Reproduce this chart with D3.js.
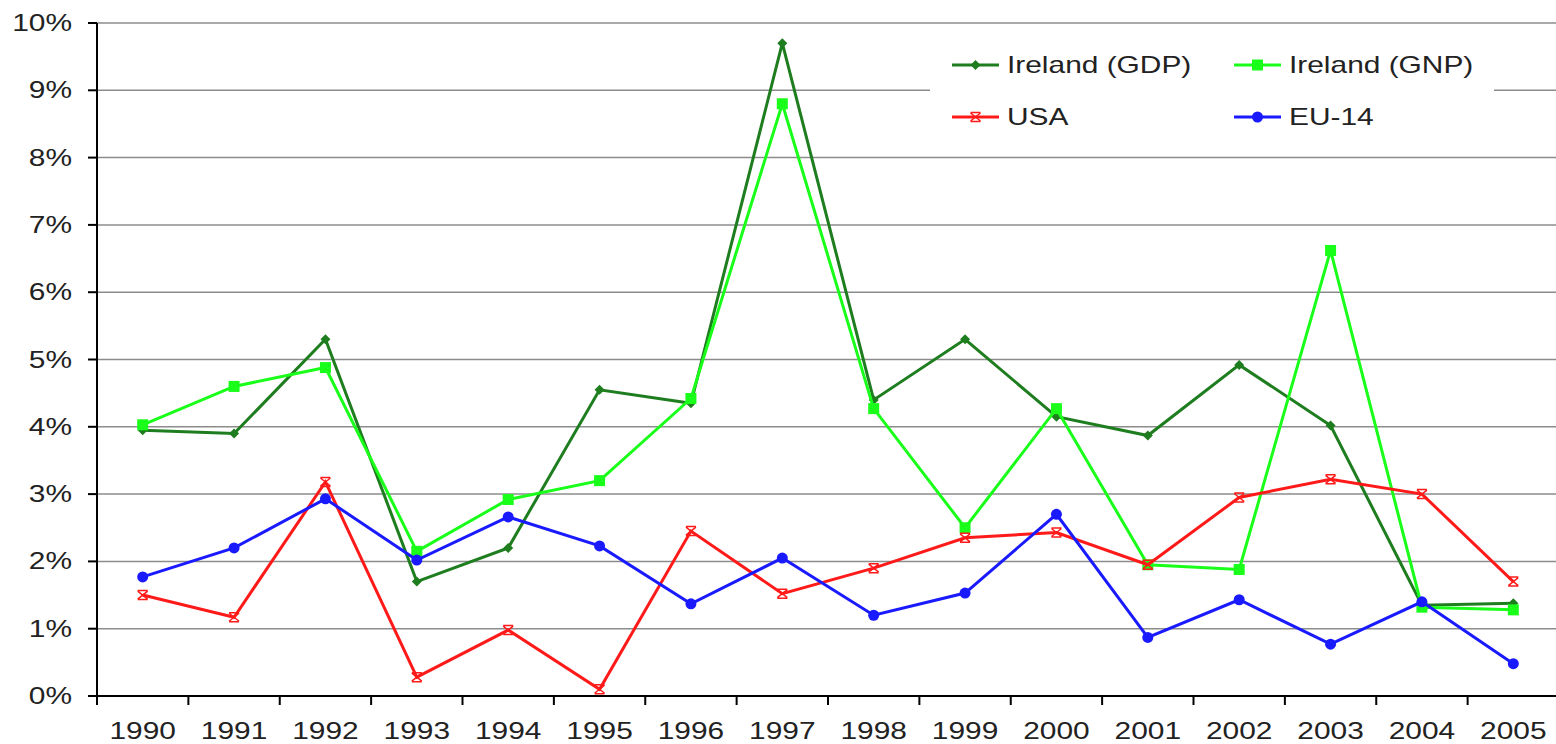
<!DOCTYPE html>
<html>
<head>
<meta charset="utf-8">
<style>
  body { margin: 0; background: #fff; }
  svg { display: block; font-family: "Liberation Sans", Arial, sans-serif; }
</style>
</head>
<body>
<svg width="1556" height="744"></svg>
<script src="https://d3js.org/d3.v7.min.js"></script>
<script>
// growth rates, percent
var years = ["1990","1991","1992","1993","1994","1995","1996","1997","1998","1999","2000","2001","2002","2003","2004","2005"];
var irelandGDP = [3.95, 3.9, 5.3, 1.7, 2.2, 4.55, 4.35, 9.7, 4.4, 5.3, 4.15, 3.87, 4.92, 4.02, 1.35, 1.38];
var irelandGNP = [4.03, 4.6, 4.88, 2.15, 2.92, 3.2, 4.42, 8.8, 4.27, 2.5, 4.27, 1.95, 1.88, 6.62, 1.32, 1.28];
var usa = [1.5, 1.17, 3.18, 0.28, 0.98, 0.1, 2.45, 1.52, 1.9, 2.35, 2.43, 1.95, 2.95, 3.22, 3.0, 1.7];
var eu14 = [1.77, 2.2, 2.93, 2.02, 2.66, 2.23, 1.37, 2.05, 1.2, 1.53, 2.7, 0.87, 1.43, 0.77, 1.4, 0.48];
var yTicks = [0, 1, 2, 3, 4, 5, 6, 7, 8, 9, 10];

var series = [
	{name: "Ireland (GDP)", values: irelandGDP, color: "#1e7d1e", marker: "diamond"},
	{name: "Ireland (GNP)", values: irelandGNP, color: "#1aff1a", marker: "square"},
	{name: "USA", values: usa, color: "#ff1a1a", marker: "star"},
	{name: "EU-14", values: eu14, color: "#1a1aff", marker: "circle"}
];

var svg = d3.select("svg");
var plotLeft = 97, plotRight = 1559, plotTop = 23, plotBottom = 696;
var stretch = 1.3; // the source text is wide, stretched sideways

var x = d3.scaleBand().domain(years).range([plotLeft, plotRight]);
var y = d3.scaleLinear().domain([0, 10]).range([plotBottom, plotTop]);

function label(g, px, py, anchor, txt) {
	return g.append("text")
		.attr("transform", "translate(" + px + "," + py + ") scale(" + stretch + ",1)")
		.attr("text-anchor", anchor)
		.style("font-size", "23px")
		.style("fill", "#222")
		.text(txt);
}

// gridlines
svg.append("g")
	.selectAll("line")
	.data(yTicks.slice(1))
	.enter()
	.append("line")
	.attr("x1", plotLeft).attr("x2", 1556)
	.attr("y1", function(d) { return y(d); })
	.attr("y2", function(d) { return y(d); })
	.style("stroke", "#8c8c8c")
	.style("stroke-width", "1.5px");

// legend box (white, hides the gridline behind)
svg.append("rect")
	.attr("x", 930).attr("y", 34)
	.attr("width", 564).attr("height", 112)
	.style("fill", "#fff");

// y axis
var yAxis = svg.append("g");
yTicks.forEach(function(t) {
	yAxis.append("line")
		.attr("x1", plotLeft - 9).attr("x2", plotLeft)
		.attr("y1", y(t)).attr("y2", y(t))
		.style("stroke", "#000").style("stroke-width", "2px");
	label(yAxis, 72, y(t) + 8, "end", t + "%");
});

// x axis with ticks between categories
var xAxis = svg.append("g");
d3.range(years.length + 1).forEach(function(i) {
	xAxis.append("line")
		.attr("x1", plotLeft + i * x.step()).attr("x2", plotLeft + i * x.step())
		.attr("y1", plotBottom).attr("y2", plotBottom + 9)
		.style("stroke", "#000").style("stroke-width", "2px");
});
years.forEach(function(d) {
	label(xAxis, x(d) + x.bandwidth() / 2, 739, "middle", d);
});

svg.append("line")
	.attr("x1", plotLeft).attr("x2", 1556)
	.attr("y1", plotBottom).attr("y2", plotBottom)
	.style("stroke", "#000").style("stroke-width", "2px");
svg.append("line")
	.attr("x1", plotLeft).attr("x2", plotLeft)
	.attr("y1", plotTop).attr("y2", plotBottom + 9)
	.style("stroke", "#000").style("stroke-width", "2px");

function drawMarker(g, type, color) {
	if (type == "diamond") {
		g.append("path").attr("d", "M0,-5L5,0L0,5L-5,0Z").style("fill", color);
	} else if (type == "square") {
		g.append("rect").attr("x", -5.5).attr("y", -5.5).attr("width", 11).attr("height", 11).style("fill", color);
	} else if (type == "star") {
		g.append("path").attr("d", "M-5,-4L5,4M-5,4L5,-4M-5,-4.5L5,-4.5M-5,4.5L5,4.5")
			.style("stroke", color).style("stroke-width", "1.5px").style("fill", "none");
	} else {
		g.append("circle").attr("r", 5.5).style("fill", color);
	}
}

var line = d3.line()
	.x(function(d, i) { return x(years[i]) + x.bandwidth() / 2; })
	.y(function(d) { return y(d); });

series.forEach(function(s) {
	svg.append("path")
		.datum(s.values)
		.attr("d", line)
		.style("fill", "none")
		.style("stroke", s.color)
		.style("stroke-width", "3px");
	s.values.forEach(function(v, i) {
		var g = svg.append("g")
			.attr("transform", "translate(" + (x(years[i]) + x.bandwidth() / 2) + "," + y(v) + ")");
		drawMarker(g, s.marker, s.color);
	});
});

// legend
var legendPos = [[952, 65], [1234, 65], [952, 117], [1234, 117]];
series.forEach(function(s, i) {
	var p = legendPos[i];
	var g = svg.append("g").attr("transform", "translate(" + p[0] + "," + p[1] + ")");
	g.append("line").attr("x1", 0).attr("x2", 47).attr("y1", 0).attr("y2", 0)
		.style("stroke", s.color).style("stroke-width", "3px");
	var m = g.append("g").attr("transform", "translate(23.5,0)");
	drawMarker(m, s.marker, s.color);
	label(g, 55, 8, "start", s.name);
});
</script>
</body>
</html>
